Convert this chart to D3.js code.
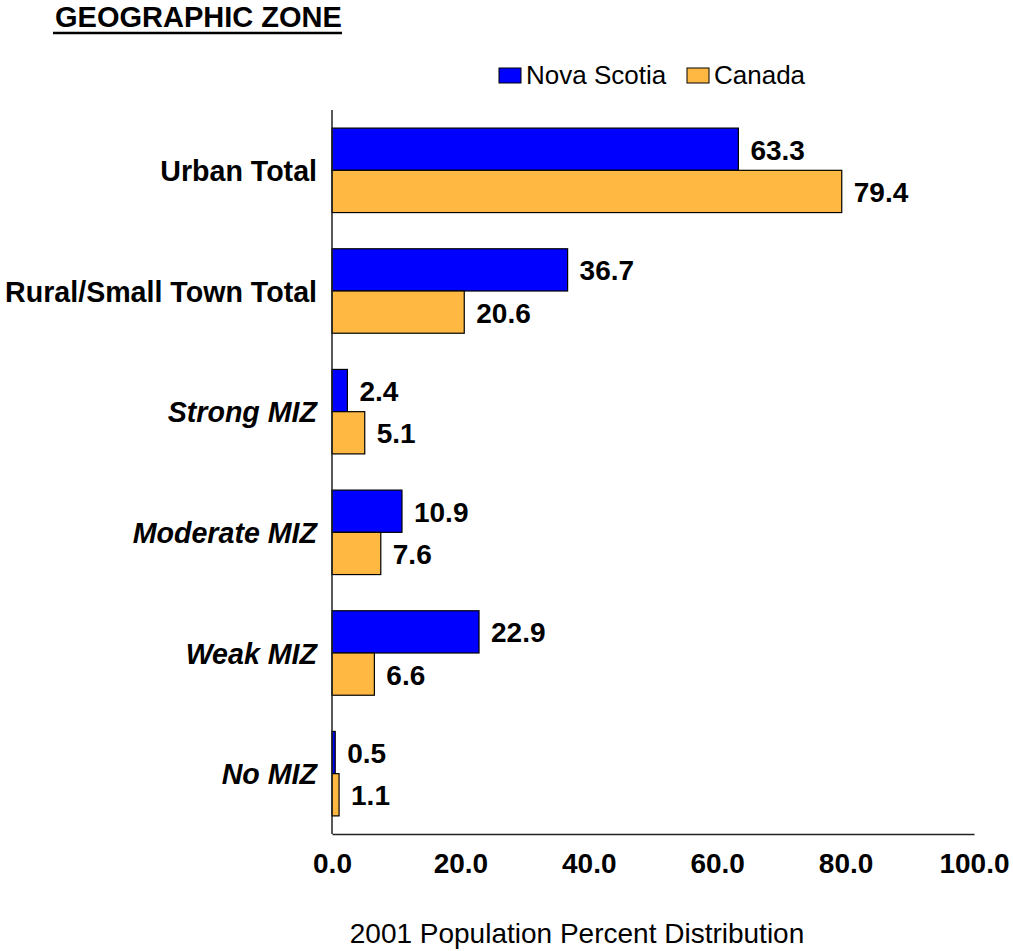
<!DOCTYPE html>
<html>
<head>
<meta charset="utf-8">
<script src="https://cdn.jsdelivr.net/npm/d3@7"></script>
<style>
  body { margin: 0; background: #fff; }
  svg { font-family: "Liberation Sans", Arial, sans-serif; }
</style>
</head>
<body>
<svg id="chart" width="1013" height="951"></svg>
<script>
// data
var categories = ['Urban Total', 'Rural/Small Town Total', 'Strong MIZ', 'Moderate MIZ', 'Weak MIZ', 'No MIZ']
var italicCats = ['Strong MIZ', 'Moderate MIZ', 'Weak MIZ', 'No MIZ']
var seriesNames = ['Nova Scotia', 'Canada']
var novaScotia = [63.3, 36.7, 2.4, 10.9, 22.9, 0.5]
var canada = [79.4, 20.6, 5.1, 7.6, 6.6, 1.1]
var xTicks = [0, 20, 40, 60, 80, 100]
var colors = ['#0000ff', '#ffb942']

var svg = d3.select('#chart')

var x = d3.scaleLinear().domain([0, 100]).range([332, 974])
var y = d3.scaleBand().domain(categories).range([110, 834])
  .paddingInner(0.3).paddingOuter(0.15)
var ySub = d3.scaleBand().domain(seriesNames).range([0, y.bandwidth()])

var rows = categories.map(function(c, i) {
  return { cat: c, values: [novaScotia[i], canada[i]] }
})

// title
svg.append('text')
  .attr('x', 55).attr('y', 27)
  .style('font-size', '29px').style('font-weight', 'bold')
  .text('GEOGRAPHIC ZONE')
svg.append('line')
  .attr('x1', 53).attr('x2', 342).attr('y1', 33).attr('y2', 33)
  .attr('stroke', '#000').attr('stroke-width', 2.5)

// legend
var legendX = [499, 687]
var leg = svg.selectAll('.leg')
  .data(seriesNames)
  .enter()
  .append('g')
  .attr('class', 'leg')
  .attr('transform', (d, i) => 'translate(' + legendX[i] + ',68)')
leg.append('rect')
  .attr('width', 22).attr('height', 15)
  .attr('fill', (d, i) => colors[i])
  .attr('stroke', '#000').attr('stroke-width', 1)
leg.append('text')
  .attr('x', 27).attr('y', 16)
  .style('font-size', '26px')
  .text(d => d)

// bars
var group = svg.selectAll('.cat')
  .data(rows)
  .enter()
  .append('g')
  .attr('class', 'cat')
  .attr('transform', d => 'translate(0,' + y(d.cat) + ')')

group.selectAll('rect')
  .data(d => d.values.map((v, i) => ({ name: seriesNames[i], v: v, i: i })))
  .enter()
  .append('rect')
  .attr('x', x(0))
  .attr('y', d => ySub(d.name))
  .attr('width', d => x(d.v) - x(0))
  .attr('height', ySub.bandwidth())
  .attr('fill', d => colors[d.i])
  .attr('stroke', '#000')
  .attr('stroke-width', 1.2)

group.selectAll('.val')
  .data(d => d.values.map((v, i) => ({ name: seriesNames[i], v: v })))
  .enter()
  .append('text')
  .attr('class', 'val')
  .attr('x', d => x(d.v) + 12)
  .attr('y', d => ySub(d.name) + ySub.bandwidth() / 2 + 10.5)
  .style('font-size', '28px').style('font-weight', 'bold')
  .text(d => d.v.toFixed(1))

// category labels
svg.selectAll('.catlab')
  .data(categories)
  .enter()
  .append('text')
  .attr('class', 'catlab')
  .attr('x', 317)
  .attr('y', d => y(d) + y.bandwidth() / 2 + 10.5)
  .attr('text-anchor', 'end')
  .style('font-size', '28.6px').style('font-weight', 'bold')
  .style('font-style', d => italicCats.indexOf(d) >= 0 ? 'italic' : 'normal')
  .text(d => d)

// axes
var xAxis = svg.append('g')
  .attr('transform', 'translate(0,834)')
  .call(d3.axisBottom(x).tickValues(xTicks).tickSize(0).tickPadding(0).tickFormat(d3.format('.1f')))
xAxis.select('.domain').attr('stroke', '#222').attr('stroke-width', 1.5)
xAxis.selectAll('text')
  .attr('y', 39).attr('dy', null)
  .attr('fill', '#000')
  .style('font-size', '28px').style('font-weight', 'bold')
  .style('font-family', '"Liberation Sans", Arial, sans-serif')

svg.append('line')
  .attr('x1', x(0)).attr('x2', x(0))
  .attr('y1', 110).attr('y2', 834)
  .attr('stroke', '#222').attr('stroke-width', 1.5)

svg.append('text')
  .attr('x', 577).attr('y', 943)
  .attr('text-anchor', 'middle')
  .style('font-size', '28px')
  .text('2001 Population Percent Distribution')
</script>
</body>
</html>
